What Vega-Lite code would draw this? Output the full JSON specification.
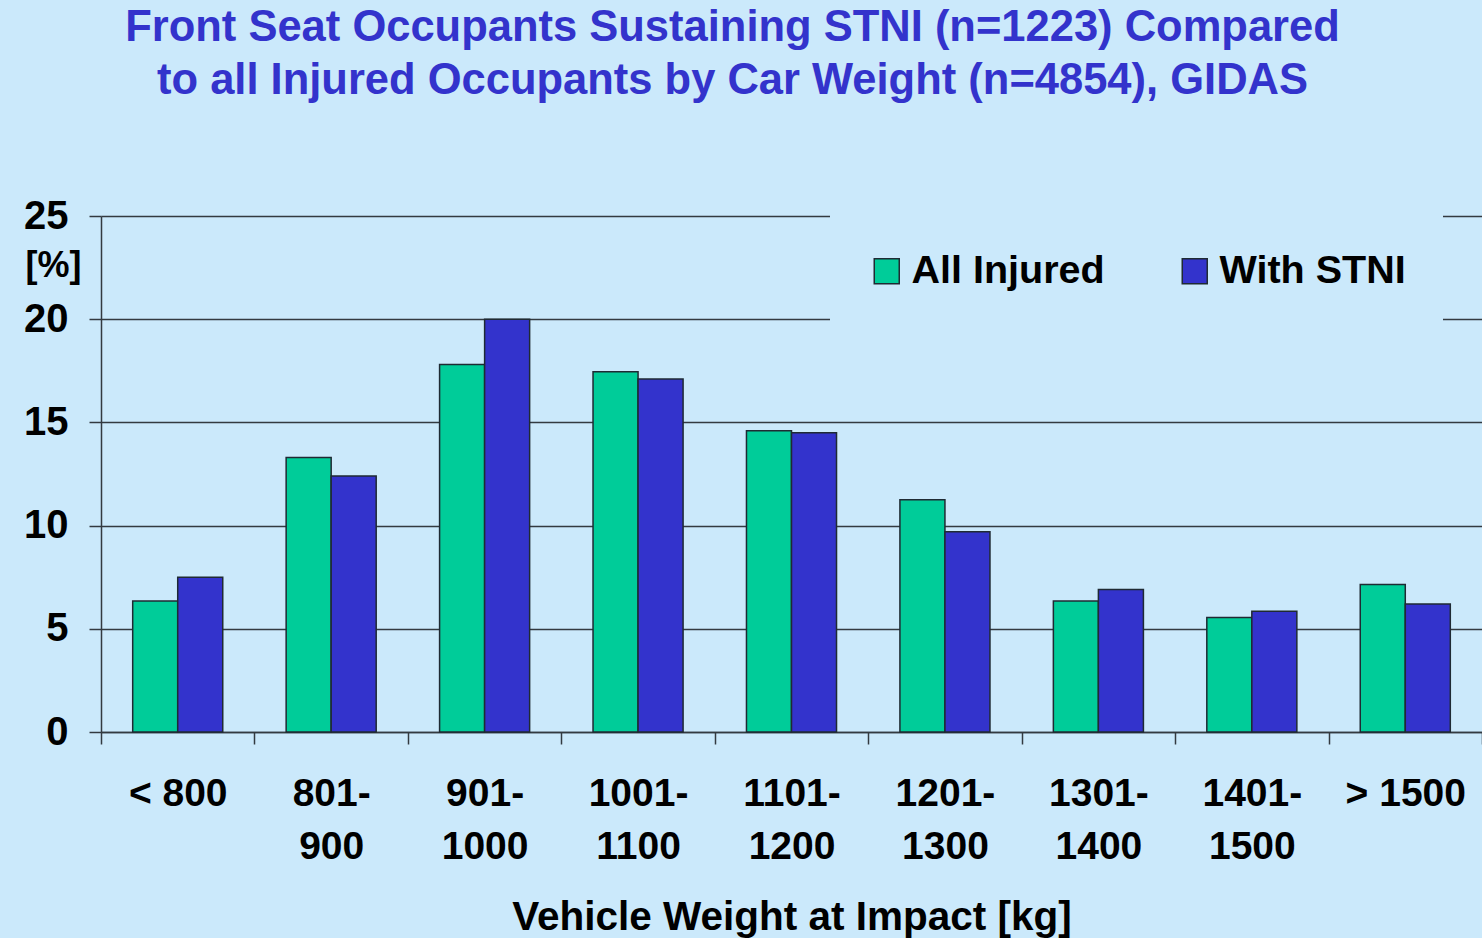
{
  "$schema": "https://vega.github.io/schema/vega-lite/v6.json",
  "autosize": {"type": "none"},
  "width": 1381,
  "height": 516,
  "padding": {"left": 101, "top": 216, "right": 0, "bottom": 206},
  "background": "#cbe9fb",
  "title": {
    "text": ["Front Seat Occupants Sustaining STNI (n=1223) Compared", "to all Injured Occupants by Car Weight (n=4854), GIDAS"],
    "font": "Liberation Sans",
    "fontSize": 43.5,
    "fontWeight": "bold",
    "color": "#3333cc",
    "anchor": "middle",
    "frame": "group",
    "dx": -59,
    "lineHeight": 53,
    "offset": 93
  },
  "data": {
    "values": [
      {"weight": "< 800", "series": "All Injured", "value": 6.35},
      {"weight": "< 800", "series": "With STNI", "value": 7.5},
      {"weight": "801- 900", "series": "All Injured", "value": 13.3},
      {"weight": "801- 900", "series": "With STNI", "value": 12.4},
      {"weight": "901- 1000", "series": "All Injured", "value": 17.8},
      {"weight": "901- 1000", "series": "With STNI", "value": 20.0},
      {"weight": "1001- 1100", "series": "All Injured", "value": 17.45},
      {"weight": "1001- 1100", "series": "With STNI", "value": 17.1},
      {"weight": "1101- 1200", "series": "All Injured", "value": 14.6},
      {"weight": "1101- 1200", "series": "With STNI", "value": 14.5},
      {"weight": "1201- 1300", "series": "All Injured", "value": 11.25},
      {"weight": "1201- 1300", "series": "With STNI", "value": 9.7},
      {"weight": "1301- 1400", "series": "All Injured", "value": 6.35},
      {"weight": "1301- 1400", "series": "With STNI", "value": 6.9},
      {"weight": "1401- 1500", "series": "All Injured", "value": 5.55},
      {"weight": "1401- 1500", "series": "With STNI", "value": 5.85},
      {"weight": "> 1500", "series": "All Injured", "value": 7.15},
      {"weight": "> 1500", "series": "With STNI", "value": 6.2}
    ]
  },
  "mark": {"type": "bar", "stroke": "#1f2a33", "strokeWidth": 1.5},
  "encoding": {
    "x": {
      "field": "weight",
      "type": "nominal",
      "sort": null,
      "scale": {"paddingInner": 0, "paddingOuter": 0},
      "axis": {
        "title": "Vehicle Weight at Impact [kg]",
        "titleFont": "Liberation Sans",
        "titleFontSize": 40.5,
        "titleFontWeight": "bold",
        "titleColor": "#000000",
        "titleBaseline": "alphabetic",
        "titleY": 197,
        "labelAngle": 0,
        "labelFont": "Liberation Sans",
        "labelFontSize": 39,
        "labelFontWeight": "bold",
        "labelColor": "#000000",
        "labelLineHeight": 53,
        "labelPadding": 30,
        "labelExpr": "indexof(datum.label, '- ') > 0 ? split(datum.label, ' ') : datum.label",
        "tickBand": "extent",
        "tickSize": 12,
        "tickColor": "#333a40",
        "tickWidth": 1.5,
        "domainColor": "#333a40",
        "domainWidth": 1.5,
        "grid": false
      }
    },
    "xOffset": {
      "field": "series",
      "type": "nominal",
      "scale": {"paddingInner": 0, "paddingOuter": 0.704}
    },
    "y": {
      "field": "value",
      "type": "quantitative",
      "scale": {"domain": [0, 25], "nice": false},
      "axis": {
        "values": [0, 5, 10, 15, 20, 25],
        "title": "[%]",
        "titleAngle": 0,
        "titleX": -76,
        "titleY": 49,
        "titleAlign": "left",
        "titleBaseline": "middle",
        "titleFont": "Liberation Sans",
        "titleFontSize": 36,
        "titleFontWeight": "bold",
        "titleColor": "#000000",
        "labelFont": "Liberation Sans",
        "labelFontSize": 40,
        "labelFontWeight": "bold",
        "labelColor": "#000000",
        "labelPadding": 21,
        "tickSize": 12,
        "tickColor": "#333a40",
        "tickWidth": 1.5,
        "domainColor": "#333a40",
        "domainWidth": 1.5,
        "grid": true,
        "gridColor": "#333a40",
        "gridWidth": 1.5,
        "gridOpacity": 1
      }
    },
    "color": {
      "field": "series",
      "type": "nominal",
      "scale": {"domain": ["All Injured", "With STNI"], "range": ["#00cc99", "#3333cc"]},
      "legend": {
        "title": null,
        "orient": "none",
        "direction": "horizontal",
        "legendX": 729,
        "legendY": -2,
        "fillColor": "#cbe9fb",
        "padding": 37,
        "symbolType": "square",
        "symbolSize": 625,
        "symbolStrokeColor": "#1f2a33",
        "symbolStrokeWidth": 1.5,
        "symbolOpacity": 1,
        "labelFont": "Liberation Sans",
        "labelFontSize": 39.5,
        "labelFontWeight": "bold",
        "labelColor": "#000000",
        "labelOffset": 5,
        "labelLimit": 400,
        "columnPadding": 70
      }
    }
  },
  "config": {"view": {"stroke": null}}
}
